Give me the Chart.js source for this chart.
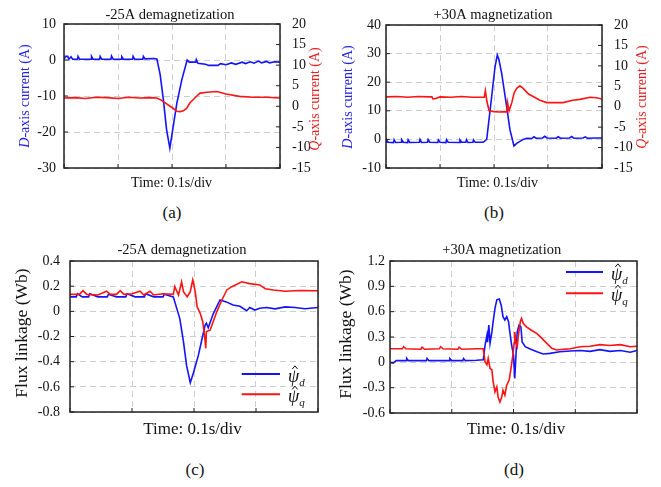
<!DOCTYPE html>
<html>
<head>
<meta charset="utf-8">
<script src="https://cdn.jsdelivr.net/npm/chart.js@4.4.1/dist/chart.umd.min.js"></script>
<style>
  body { margin: 0; background: #fff; width: 661px; height: 487px; position: relative; overflow: hidden; font-family: "Liberation Serif", "Times New Roman", serif; }
  canvas { position: absolute; }
  .tag { position: absolute; width: 40px; margin-left: -20px; text-align: center; font-size: 17px; line-height: 20px; color: #111; }
</style>
</head>
<body>
<canvas id="chartA" width="330" height="200" style="left:0;top:0"></canvas>
<canvas id="chartB" width="331" height="200" style="left:330px;top:0"></canvas>
<canvas id="chartC" width="330" height="210" style="left:0;top:232px"></canvas>
<canvas id="chartD" width="331" height="210" style="left:330px;top:232px"></canvas>
<div class="tag" style="left:172px;top:203px">(a)</div>
<div class="tag" style="left:494px;top:203px">(b)</div>
<div class="tag" style="left:195px;top:460px">(c)</div>
<div class="tag" style="left:514px;top:460px">(d)</div>
<script>
// (a) -25A demagnetization, d/q currents
const aDTime = [0, 0.003, 0.007, 0.009, 0.013, 0.016, 0.025, 0.026, 0.029, 0.05, 0.051, 0.054, 0.066, 0.067, 0.07, 0.087, 0.088, 0.091, 0.106, 0.107, 0.11, 0.127, 0.128, 0.131, 0.146, 0.147, 0.15, 0.166, 0.172, 0.178, 0.184, 0.19, 0.196, 0.209, 0.218, 0.228, 0.232, 0.244, 0.245, 0.248, 0.262, 0.268, 0.285, 0.29, 0.3, 0.31, 0.318, 0.33, 0.336, 0.345, 0.352, 0.36, 0.366, 0.375, 0.381, 0.39, 0.4];
const aDVal = [0.2, 1.0, 1.0, 0.2, 0.9, 0.2, 0.2, 1.0, 0.2, 0.2, 1.0, 0.2, 0.2, 1.0, 0.2, 0.2, 1.1, 0.2, 0.2, 0.9, 0.2, 0.2, 1.0, 0.2, 0.2, 1.0, 0.3, 0.4, 0.3, -4.0, -11.0, -19.4, -24.5, -12.0, -5.6, 0, -0.6, -0.6, 0.1, -0.9, -1.2, -1.5, -1.5, -1.0, -1.3, -0.8, -1.2, -0.6, -1.0, -0.5, -0.9, -0.3, -0.8, -0.4, -0.8, -0.5, -0.6];
const aQTime = [0, 0.02, 0.04, 0.06, 0.08, 0.1, 0.12, 0.14, 0.16, 0.172, 0.18, 0.19, 0.2, 0.209, 0.215, 0.221, 0.227, 0.233, 0.24, 0.246, 0.252, 0.265, 0.283, 0.3, 0.325, 0.35, 0.375, 0.4];
const aQVal = [2.0, 2.1, 1.9, 2.2, 2.1, 1.9, 2.2, 2.0, 2.1, 2.0, 1.5, 0.6, -0.3, -1.2, -1.3, -1.1, -0.5, 0.8, 1.7, 2.5, 3.2, 3.4, 3.6, 3.0, 2.4, 2.2, 2.2, 2.0];

// (b) +30A magnetization, d/q currents
const bDTime = [0, 0.001, 0.004, 0.014, 0.015, 0.018, 0.028, 0.029, 0.032, 0.04, 0.041, 0.044, 0.062, 0.063, 0.066, 0.077, 0.078, 0.081, 0.096, 0.097, 0.1, 0.111, 0.112, 0.115, 0.136, 0.137, 0.14, 0.148, 0.149, 0.152, 0.161, 0.162, 0.165, 0.18, 0.1865, 0.1957, 0.2019, 0.2061, 0.209, 0.2143, 0.2235, 0.2296, 0.237, 0.242, 0.254, 0.261, 0.27, 0.274, 0.278, 0.29, 0.294, 0.298, 0.315, 0.319, 0.323, 0.34, 0.344, 0.348, 0.365, 0.369, 0.373, 0.39, 0.4];
const bDVal = [-1.0, -0.2, -1.0, -1.1, -0.1, -1.1, -1.0, -0.1, -1.0, -1.1, -0.2, -1.1, -1.0, 0, -1.1, -1.0, -0.1, -1.0, -1.1, -0.2, -1.0, -1.1, -0.1, -1.0, -1.1, -0.2, -1.0, -1.0, -0.1, -1.1, -1.0, -0.2, -1.0, -1.0, 0, 15, 25.4, 29.5, 28, 23, 11.4, 3.3, -2.3, -1.4, 0, 0.4, 0.3, 0.9, 0.4, 0.5, 1.1, 0.5, 0.4, 0.9, 0.4, 0.5, 1.0, 0.4, 0.5, 0.9, 0.4, 0.5, 0.5];
const bQTime = [0, 0.02, 0.04, 0.06, 0.08, 0.085, 0.087, 0.092, 0.1, 0.12, 0.14, 0.16, 0.182, 0.184, 0.187, 0.191, 0.2, 0.21, 0.22, 0.224, 0.225, 0.228, 0.233, 0.237, 0.242, 0.248, 0.254, 0.264, 0.275, 0.285, 0.298, 0.316, 0.328, 0.346, 0.359, 0.378, 0.39, 0.4];
const bQVal = [2.4, 2.5, 2.3, 2.5, 2.4, 2.4, 1.9, 2.0, 2.4, 2.3, 2.5, 2.3, 2.3, 3.9, 1.2, -1.0, -1.2, -1.3, -1.2, -1.3, 1.0, -1.0, 1.0, 3.3, 4.5, 5.1, 4.5, 3.1, 2.3, 1.6, 1.0, 1.0, 1.0, 1.6, 1.8, 2.3, 2.2, 1.9];

// (c) -25A demagnetization, flux linkage estimates
const cDTime = [0, 0.01, 0.012, 0.02, 0.03, 0.032, 0.045, 0.06, 0.062, 0.075, 0.09, 0.092, 0.105, 0.12, 0.122, 0.135, 0.15, 0.152, 0.1666, 0.177, 0.183, 0.188, 0.194, 0.199, 0.207, 0.212, 0.218, 0.22, 0.223, 0.231, 0.242, 0.252, 0.263, 0.274, 0.285, 0.29, 0.298, 0.306, 0.317, 0.331, 0.347, 0.363, 0.379, 0.4];
const cDVal = [0.115, 0.115, 0.14, 0.115, 0.115, 0.14, 0.115, 0.115, 0.135, 0.115, 0.115, 0.14, 0.115, 0.115, 0.14, 0.115, 0.115, 0.135, 0.115, -0.056, -0.24, -0.43, -0.567, -0.49, -0.35, -0.24, -0.11, -0.095, -0.13, -0.02, 0.09, 0.075, 0.05, 0.04, 0.005, 0.03, 0.01, 0.025, 0.03, 0.02, 0.035, 0.03, 0.02, 0.03];
const cQTime = [0, 0.015, 0.021, 0.027, 0.045, 0.059, 0.065, 0.075, 0.081, 0.087, 0.1, 0.113, 0.119, 0.129, 0.135, 0.15, 0.1666, 0.169, 0.175, 0.18, 0.183, 0.189, 0.194, 0.198, 0.202, 0.205, 0.21, 0.214, 0.217, 0.219, 0.22, 0.226, 0.231, 0.237, 0.245, 0.253, 0.261, 0.277, 0.29, 0.306, 0.315, 0.328, 0.347, 0.371, 0.4];
const cQVal = [0.135, 0.135, 0.165, 0.135, 0.13, 0.16, 0.135, 0.135, 0.165, 0.135, 0.14, 0.16, 0.13, 0.16, 0.13, 0.14, 0.135, 0.196, 0.13, 0.235, 0.156, 0.116, 0.156, 0.25, 0.156, 0.037, -0.016, -0.08, -0.19, -0.294, -0.16, -0.15, -0.08, 0, 0.09, 0.17, 0.196, 0.235, 0.22, 0.21, 0.18, 0.17, 0.16, 0.165, 0.164];

// (d) +30A magnetization, flux linkage estimates
const dDTime = [0, 0.005, 0.01, 0.026, 0.027, 0.03, 0.059, 0.06, 0.063, 0.096, 0.097, 0.1, 0.118, 0.119, 0.122, 0.14, 0.151, 0.154, 0.157, 0.158, 0.16, 0.162, 0.165, 0.167, 0.17, 0.173, 0.177, 0.18, 0.183, 0.186, 0.189, 0.192, 0.194, 0.197, 0.2, 0.202, 0.204, 0.206, 0.209, 0.212, 0.214, 0.219, 0.227, 0.238, 0.248, 0.259, 0.275, 0.292, 0.308, 0.324, 0.34, 0.356, 0.373, 0.389, 0.4];
const dDVal = [0, -0.01, 0.02, 0.02, 0.047, 0.02, 0.02, 0.047, 0.02, 0.02, 0.045, 0.02, 0.02, 0.045, 0.02, 0.025, 0.03, 0.205, 0.32, 0.24, 0.44, 0.225, 0.36, 0.48, 0.64, 0.74, 0.75, 0.68, 0.54, 0.5, 0.54, 0.48, 0.36, 0.205, 0.087, -0.19, 0.087, 0.36, 0.44, 0.42, 0.24, 0.185, 0.157, 0.125, 0.098, 0.106, 0.125, 0.134, 0.14, 0.13, 0.15, 0.13, 0.14, 0.12, 0.14];
const dQTime = [0, 0.02, 0.022, 0.026, 0.05, 0.052, 0.056, 0.08, 0.082, 0.086, 0.11, 0.112, 0.116, 0.14, 0.151, 0.154, 0.157, 0.159, 0.162, 0.165, 0.167, 0.17, 0.173, 0.175, 0.178, 0.181, 0.183, 0.186, 0.189, 0.193, 0.196, 0.199, 0.201, 0.202, 0.204, 0.206, 0.208, 0.211, 0.213, 0.216, 0.221, 0.229, 0.238, 0.246, 0.254, 0.262, 0.27, 0.281, 0.292, 0.308, 0.324, 0.34, 0.356, 0.373, 0.389, 0.4];
const dQVal = [0.16, 0.16, 0.185, 0.16, 0.155, 0.18, 0.155, 0.16, 0.185, 0.16, 0.155, 0.18, 0.155, 0.16, 0.16, 0.007, -0.03, 0.047, -0.07, -0.09, -0.23, -0.35, -0.29, -0.41, -0.47, -0.41, -0.33, -0.39, -0.27, -0.21, -0.07, 0.087, 0.225, 0.36, 0.225, 0.185, 0.32, 0.48, 0.52, 0.46, 0.42, 0.38, 0.34, 0.284, 0.225, 0.166, 0.146, 0.154, 0.16, 0.185, 0.19, 0.21, 0.2, 0.21, 0.185, 0.19];

const blue = 'rgb(20,20,250)';
const red = 'rgb(250,20,20)';
const blueText = 'rgb(35,35,225)';
const redText = 'rgb(230,30,30)';
const gridGray = '#cdcdcd';
const serif = '"Liberation Serif", "DejaVu Serif", serif';

const pts = (ts, vs) => ts.map((t, i) => ({x: t, y: vs[i]}));

// text with italic / hat / subscript pieces, centred on (x, y) unless align is 'left'
function richText(ctx, t) {
  const fontFor = p => (p[1] ? 'italic ' : '') + (p[1] === 'sub' ? Math.round(t.size * 0.6) : t.size) + 'px ' + serif;
  let total = 0;
  const widths = t.parts.map(p => {
    ctx.font = fontFor(p);
    const w = ctx.measureText(p[0]).width;
    total += w;
    return w;
  });
  ctx.save();
  ctx.translate(t.x, t.y);
  if (t.rot) ctx.rotate(t.rot);
  ctx.fillStyle = t.color || '#111';
  ctx.strokeStyle = t.color || '#111';
  ctx.textBaseline = 'middle';
  ctx.textAlign = 'left';
  let cx = t.align === 'left' ? 0 : -total / 2;
  t.parts.forEach((p, i) => {
    ctx.font = fontFor(p);
    ctx.fillText(p[0], cx, p[1] === 'sub' ? t.size * 0.32 : 0);
    if (p[1] === 'hat') {
      const w = widths[i], s = t.size;
      ctx.lineWidth = 1;
      ctx.beginPath();
      ctx.moveTo(cx + w * 0.38, -s * 0.44);
      ctx.lineTo(cx + w * 0.62, -s * 0.62);
      ctx.lineTo(cx + w * 0.86, -s * 0.44);
      ctx.stroke();
    }
    cx += widths[i];
  });
  ctx.restore();
}

const frameText = {
  id: 'frameText',
  afterDraw(chart, args, opts) {
    const {ctx, chartArea: a, scales} = chart;
    ctx.save();
    ctx.strokeStyle = '#222';
    ctx.lineWidth = 1;
    ctx.beginPath();
    scales.x.ticks.forEach(t => {
      const px = scales.x.getPixelForValue(t.value);
      ctx.moveTo(px, a.bottom);
      ctx.lineTo(px, a.bottom - 4);
    });
    scales.y.ticks.forEach(t => {
      const py = scales.y.getPixelForValue(t.value);
      ctx.moveTo(a.left, py);
      ctx.lineTo(a.left + 4, py);
    });
    if (scales.y2) {
      scales.y2.ticks.forEach(t => {
        const py = scales.y2.getPixelForValue(t.value);
        ctx.moveTo(a.right, py);
        ctx.lineTo(a.right - 4, py);
      });
    }
    ctx.stroke();
    ctx.lineWidth = 1.5;
    ctx.strokeRect(a.left, a.top, a.right - a.left, a.bottom - a.top);
    (opts.texts || []).forEach(t => richText(ctx, t));
    (opts.legend || []).forEach(l => {
      ctx.strokeStyle = l.color;
      ctx.lineWidth = 2;
      ctx.beginPath();
      ctx.moveTo(l.x1, l.y);
      ctx.lineTo(l.x2, l.y);
      ctx.stroke();
      richText(ctx, {x: l.x2 + 8, y: l.y + 3, size: 18, align: 'left', color: '#111', parts: [['\u03C8', 'hat'], [l.sub, 'sub']]});
    });
    ctx.restore();
  }
};

const tidy = v => String(Number(v.toFixed(2)));

function yScale(min, max, step, width, pad, pos, grid) {
  return {
    type: 'linear', position: pos, min: min, max: max,
    ticks: {stepSize: step, padding: pad, color: '#111', font: {family: serif, size: 14}, callback: tidy},
    grid: {color: gridGray, drawTicks: false, drawOnChartArea: grid},
    border: {display: false, dash: [6, 4]},
    afterFit: s => { s.width = width; }
  };
}

const xScale = {
  type: 'linear', min: 0, max: 0.4,
  ticks: {display: false, stepSize: 0.1},
  grid: {color: gridGray, drawTicks: false},
  border: {display: false, dash: [6, 4]},
  afterFit: s => { s.height = 0; }
};

function line(data, color, axis) {
  return {data: data, borderColor: color, borderWidth: 1.6, pointRadius: 0, tension: 0, fill: false, yAxisID: axis};
}

function makeChart(id, datasets, scales, padding, notes) {
  new Chart(document.getElementById(id), {
    type: 'line',
    data: {datasets: datasets},
    options: {
      responsive: false,
      animation: false,
      layout: {padding: padding},
      scales: scales,
      plugins: {legend: {display: false}, tooltip: {enabled: false}, frameText: notes}
    },
    plugins: [frameText]
  });
}

makeChart('chartA',
  [line(pts(aQTime, aQVal), red, 'y2'), line(pts(aDTime, aDVal), blue, 'y')],
  {x: xScale, y: yScale(-30, 10, 10, 64, 8, 'left', true), y2: yScale(-15, 20, 5, 50, 12, 'right', false)},
  {top: 24, bottom: 32, left: 0, right: 0},
  {texts: [
    {x: 170, y: 15, size: 14.5, parts: [['-25A demagnetization', '']]},
    {x: 25, y: 96, size: 14, rot: -Math.PI / 2, color: blueText, parts: [['D', 'i'], ['-axis current (A)', '']]},
    {x: 315, y: 99, size: 14, rot: -Math.PI / 2, color: redText, parts: [['Q', 'i'], ['-axis current (A)', '']]},
    {x: 171.5, y: 183, size: 14, parts: [['Time: 0.1s/div', '']]}
  ]});

makeChart('chartB',
  [line(pts(bQTime, bQVal), red, 'y2'), line(pts(bDTime, bDVal), blue, 'y')],
  {x: xScale, y: yScale(-10, 40, 10, 56, 5, 'left', true), y2: yScale(-15, 20, 5, 59, 12, 'right', false)},
  {top: 25, bottom: 32, left: 0, right: 0},
  {texts: [
    {x: 163, y: 15, size: 14.5, parts: [['+30A magnetization', '']]},
    {x: 18.5, y: 97, size: 14, rot: -Math.PI / 2, color: blueText, parts: [['D', 'i'], ['-axis current (A)', '']]},
    {x: 312.5, y: 97, size: 14, rot: -Math.PI / 2, color: redText, parts: [['Q', 'i'], ['-axis current (A)', '']]},
    {x: 167.5, y: 183, size: 14, parts: [['Time: 0.1s/div', '']]}
  ]});

makeChart('chartC',
  [line(pts(cQTime, cQVal), red, 'y'), line(pts(cDTime, cDVal), blue, 'y')],
  {x: xScale, y: yScale(-0.8, 0.4, 0.2, 70, 10, 'left', true)},
  {top: 29, bottom: 30, left: 0, right: 12},
  {texts: [
    {x: 182, y: 18, size: 14.5, parts: [['-25A demagnetization', '']]},
    {x: 22.7, y: 101, size: 17.5, rot: -Math.PI / 2, parts: [['Flux linkage (Wb)', '']]},
    {x: 192.5, y: 198, size: 17, parts: [['Time: 0.1s/div', '']]}
  ],
  legend: [
    {x1: 241.7, x2: 280, y: 142, color: blue, sub: 'd'},
    {x1: 241.7, x2: 280, y: 162.3, color: red, sub: 'q'}
  ]});

makeChart('chartD',
  [line(pts(dQTime, dQVal), red, 'y'), line(pts(dDTime, dDVal), blue, 'y')],
  {x: xScale, y: yScale(-0.6, 1.2, 0.3, 60, 5, 'left', true)},
  {top: 29, bottom: 29, left: 0, right: 24},
  {texts: [
    {x: 171.7, y: 18, size: 14.5, parts: [['+30A magnetization', '']]},
    {x: 16, y: 102, size: 17.5, rot: -Math.PI / 2, parts: [['Flux linkage (Wb)', '']]},
    {x: 186, y: 198, size: 17, parts: [['Time: 0.1s/div', '']]}
  ],
  legend: [
    {x1: 236, x2: 273, y: 40, color: blue, sub: 'd'},
    {x1: 236, x2: 273, y: 61.3, color: red, sub: 'q'}
  ]});
</script>
</body>
</html>
